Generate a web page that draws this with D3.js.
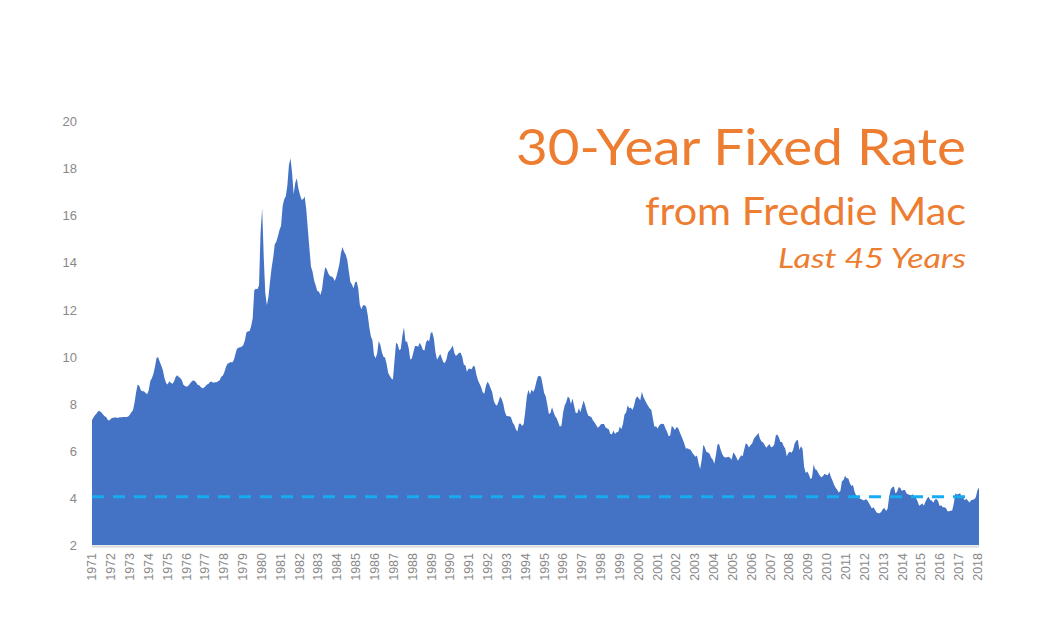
<!DOCTYPE html>
<html><head><meta charset="utf-8">
<script src="https://cdn.jsdelivr.net/npm/d3@7"></script>
<style>body{margin:0;background:#fff;} svg{display:block}</style>
</head><body><svg id="c" width="1041" height="618"></svg>
<script>
// Monthly average 30-year fixed rate (%), Apr 1971 .. Mar 2018
const rates1970s = [
  7.31,7.43,7.53,7.60,7.70,7.69,7.63,7.55,7.48,
  7.44,7.32,7.29,7.37,7.41,7.41,7.43,7.40,7.42,7.43,7.43,7.44,
  7.44,7.44,7.46,7.54,7.65,7.73,8.05,8.50,8.82,8.77,8.58,8.54,
  8.54,8.46,8.41,8.58,8.97,9.09,9.28,9.59,9.96,9.98,9.79,9.62,
  9.43,9.10,8.89,8.82,8.96,8.90,8.86,8.94,9.13,9.22,9.15,9.10,
  9.02,8.81,8.76,8.73,8.76,8.85,8.93,9.00,8.98,8.92,8.81,8.79,
  8.72,8.67,8.69,8.75,8.83,8.86,8.94,8.94,8.90,8.92,8.92,8.96,
  9.01,9.15,9.20,9.35,9.57,9.71,9.74,9.78,9.76,9.86,10.11,10.35,
  10.39,10.41,10.43,10.50,10.69,11.04,11.09,11.09,11.30,11.64,12.83,12.90
];
const rates1980s = [
  12.88,13.04,15.28,16.32,14.26,12.71,12.19,12.56,13.20,13.79,14.21,14.79,
  14.90,15.13,15.40,15.58,16.40,16.70,16.83,17.29,18.16,18.45,17.83,16.92,
  17.40,17.60,17.16,16.89,16.68,16.70,16.82,16.27,15.43,14.61,13.83,13.62,
  13.25,13.04,12.80,12.78,12.63,12.87,13.42,13.81,13.73,13.54,13.44,13.42,
  13.37,13.23,13.39,13.65,13.94,14.42,14.67,14.47,14.35,14.13,13.64,13.18,
  13.08,12.92,13.17,13.20,12.91,12.22,12.03,12.19,12.19,12.14,11.78,11.26,
  10.88,10.71,10.08,9.94,10.14,10.68,10.51,10.20,10.01,9.97,9.70,9.31,
  9.20,9.08,9.04,9.83,10.60,10.54,10.28,10.33,10.89,11.26,10.65,10.64,
  10.38,9.89,9.93,10.20,10.46,10.46,10.43,10.60,10.48,10.30,10.27,10.61,
  10.73,10.65,11.03,11.05,10.77,10.20,9.88,9.99,10.13,9.95,9.77,9.74
];
const rates1990s = [
  9.90,10.20,10.27,10.37,10.48,10.16,10.04,10.10,10.18,10.18,10.01,9.67,
  9.64,9.37,9.50,9.49,9.47,9.62,9.58,9.24,9.01,8.86,8.71,8.50,
  8.43,8.76,8.94,8.85,8.67,8.51,8.13,7.98,7.92,8.09,8.31,8.22,
  8.02,7.68,7.50,7.47,7.47,7.42,7.21,7.11,6.92,6.83,7.16,7.17,
  7.06,7.15,7.68,8.32,8.60,8.40,8.61,8.51,8.64,8.93,9.17,9.20,
  9.15,8.83,8.46,8.32,7.96,7.57,7.61,7.86,7.64,7.48,7.38,7.20,
  7.03,7.08,7.62,7.93,8.07,8.32,8.25,8.00,8.23,7.92,7.62,7.60,
  7.82,7.65,7.90,8.14,7.94,7.69,7.50,7.48,7.43,7.29,7.21,7.10,
  6.99,7.04,7.13,7.14,7.14,7.00,6.95,6.92,6.72,6.71,6.87,6.72,
  6.79,6.81,7.04,6.92,7.15,7.55,7.63,7.94,7.82,7.85,7.74,7.91
];
const rates2000s = [
  8.21,8.33,8.24,8.15,8.52,8.29,8.15,8.03,7.91,7.80,7.75,7.38,
  7.03,7.05,6.95,7.08,7.15,7.16,7.13,6.95,6.82,6.62,6.66,7.07,
  7.00,6.89,7.01,6.99,6.81,6.65,6.49,6.29,6.09,6.11,6.07,6.05,
  5.92,5.84,5.75,5.81,5.48,5.23,5.63,6.26,6.15,5.95,5.93,5.88,
  5.71,5.64,5.45,5.83,6.27,6.29,6.06,5.87,5.75,5.72,5.73,5.75,
  5.71,5.63,5.93,5.86,5.72,5.58,5.70,5.82,5.77,6.07,6.33,6.27,
  6.15,6.25,6.32,6.51,6.60,6.68,6.76,6.52,6.40,6.36,6.24,6.14,
  6.22,6.29,6.16,6.18,6.26,6.66,6.70,6.57,6.38,6.38,6.21,6.10,
  5.76,5.92,5.97,5.92,6.04,6.32,6.43,6.48,6.04,6.20,6.09,5.33,
  5.06,5.13,5.00,4.81,4.86,5.42,5.22,5.19,5.06,4.95,4.88,4.93
];
const rates2010s = [
  5.03,4.99,4.97,5.10,4.89,4.74,4.56,4.43,4.35,4.23,4.30,4.71,
  4.76,4.95,4.84,4.84,4.64,4.51,4.55,4.27,4.11,4.07,3.99,3.96,
  3.92,3.89,3.95,3.91,3.80,3.68,3.55,3.60,3.50,3.38,3.35,3.35,
  3.41,3.53,3.57,3.45,3.54,4.07,4.37,4.46,4.49,4.19,4.26,4.46,
  4.43,4.30,4.34,4.34,4.19,4.16,4.13,4.12,4.16,4.04,4.00,3.86,
  3.67,3.71,3.77,3.67,3.84,3.98,4.05,3.91,3.89,3.80,3.94,3.96,
  3.87,3.66,3.69,3.61,3.60,3.57,3.44,3.44,3.46,3.47,3.77,4.20,
  4.15,4.17,4.20,4.05,4.01,3.90,3.97,3.88,3.81,3.90,3.92,3.95,
  4.03,4.33,4.44
];
const yearLabels = ["1971","1972","1973","1974","1975","1976","1977","1978","1979","1980",
  "1981","1982","1983","1984","1985","1986","1987","1988","1989","1990",
  "1991","1992","1993","1994","1995","1996","1997","1998","1999","2000",
  "2001","2002","2003","2004","2005","2006","2007","2008","2009","2010",
  "2011","2012","2013","2014","2015","2016","2017","2018"];
const yTicks = [2,4,6,8,10,12,14,16,18,20];
const referenceRate = 4.05;
const titleLines = ["30-Year Fixed Rate", "from Freddie Mac", "Last 45 Years"];

const rates = [].concat(rates1970s, rates1980s, rates1990s, rates2000s, rates2010s);
const svg = d3.select("#c");

const x = d3.scaleLinear().domain([0, rates.length - 1]).range([92, 979]);
const y = d3.scaleLinear().domain([2, 20]).range([545, 121.7]);
const monthsPerLabel = 52 * 12 / 52.18; // label every 52 weekly points

// area
svg.append("path")
  .datum(rates)
  .attr("fill", "#4472C4")
  .attr("d", d3.area().x((d, i) => x(i)).y0(y(2)).y1(d => y(d)));

// axis line (light grey)
svg.append("line").attr("x1", 92).attr("x2", 979).attr("y1", 546.5).attr("y2", 546.5)
  .attr("stroke", "#d9d9d9").attr("stroke-width", 2);

// reference dashed line
svg.append("line").attr("x1", x(0)).attr("x2", 973)
  .attr("y1", y(referenceRate)).attr("y2", y(referenceRate))
  .attr("stroke", "#17abf0").attr("stroke-width", 3).attr("stroke-dasharray", "12,9");

// y axis labels
const yAxis = d3.axisLeft(y).tickValues(yTicks).tickSize(0).tickPadding(0).tickFormat(d3.format("d"));
const gy = svg.append("g").attr("transform", "translate(77,0)").call(yAxis);
gy.select(".domain").remove();
gy.selectAll("text").attr("fill", "#898989").attr("font-family", "Liberation Sans, Arial, sans-serif")
  .attr("font-size", 13);

// x axis labels (rotated)
const gx = svg.append("g");
gx.selectAll("text").data(yearLabels).join("text")
  .attr("transform", (d, k) => `translate(${x(k * monthsPerLabel)},553) rotate(-90)`)
  .attr("text-anchor", "end")
  .attr("dy", "0.35em")
  .attr("fill", "#898989")
  .attr("font-family", "Liberation Sans, Arial, sans-serif")
  .attr("font-size", 12.5)
  .text(d => d);

// title
const titleSpecs = [
  {size: 51, y: 165, w: 450, style: "normal"},
  {size: 38.5, y: 225, w: 321, style: "normal"},
  {size: 27, y: 268, w: 188, style: "italic"}
];
titleLines.forEach((t, i) => {
  const s = titleSpecs[i];
  svg.append("text").attr("x", 966).attr("y", s.y)
    .attr("text-anchor", "end")
    .attr("fill", "#ED7D31")
    .attr("font-family", "Lato, 'Open Sans', sans-serif")
    .attr("font-style", s.style)
    .attr("font-size", s.size)
    .attr("textLength", s.w)
    .attr("lengthAdjust", "spacingAndGlyphs")
    .text(t);
});
</script></body></html>
